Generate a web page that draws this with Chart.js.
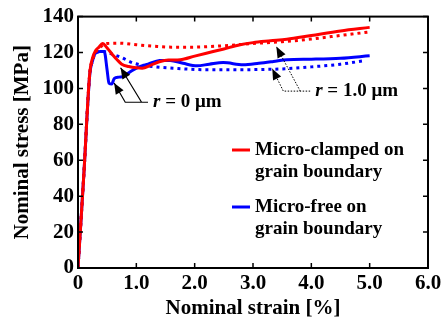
<!DOCTYPE html>
<html>
<head>
<meta charset="utf-8">
<script src="https://cdn.jsdelivr.net/npm/chart.js@4/dist/chart.umd.min.js"></script>
<style>
  html, body { margin: 0; padding: 0; background: #fff; }
  canvas { display: block; }
</style>
</head>
<body>
<canvas id="stressStrain" width="445" height="323"></canvas>
<script>
// r = 0 um, micro-clamped (red solid)
var strainClampedR0 = [0, 0.1, 0.2, 0.25, 0.3, 0.36, 0.42, 0.5, 0.6, 0.67, 0.75, 0.87, 1.0, 1.1, 1.25, 1.41, 1.55, 1.75, 2.0, 2.2, 2.5, 2.78, 3.0, 3.3, 3.58, 4.0, 4.5, 5.0];
var stressClampedR0 = [0, 52, 108, 117, 121, 123, 125, 122.5, 118.5, 116, 113.5, 112.2, 111.5, 111.3, 113, 115, 115.8, 116, 118, 119.6, 122, 124.3, 125.5, 126.5, 127.4, 129.5, 132, 134];

// r = 1.0 um, micro-clamped (red dotted)
var strainClampedR1 = [0, 0.1, 0.2, 0.25, 0.3, 0.4, 0.5, 0.7, 1.0, 1.3, 1.6, 2.0, 2.2, 2.6, 3.0, 3.5, 4.0, 4.5, 5.0];
var stressClampedR1 = [0, 52, 108, 116, 120, 123.5, 125, 125.2, 124.3, 123.5, 123, 123, 123.2, 124, 125, 126, 127.5, 129.5, 131.5];

// r = 0 um, micro-free (blue solid)
var strainFreeR0 = [0, 0.1, 0.2, 0.25, 0.3, 0.38, 0.45, 0.5, 0.53, 0.58, 0.62, 0.7, 0.79, 0.86, 0.93, 1.05, 1.2, 1.4, 1.58, 1.8, 2.04, 2.25, 2.49, 2.83, 3.1, 3.35, 3.58, 4.0, 4.5, 5.0];
var stressFreeR0 = [0, 52, 107, 115.5, 119.6, 120.5, 120.5, 110, 103, 102.5, 105.5, 106.3, 106.7, 108.5, 110, 112, 113.5, 115.5, 115.6, 114, 112.6, 113.5, 114.4, 113.2, 114, 115, 116, 116.3, 116.8, 118.2];

// r = 1.0 um, micro-free (blue dotted)
var strainFreeR1 = [0, 0.1, 0.2, 0.25, 0.3, 0.38, 0.45, 0.55, 0.73, 0.96, 1.2, 1.63, 2.2, 2.78, 3.2, 3.58, 4.0, 4.5, 4.9];
var stressFreeR1 = [0, 52, 107, 115.5, 119.6, 120.5, 120.5, 119.5, 117.4, 114, 112.5, 111.3, 110.4, 110.4, 110.6, 111, 112, 113.5, 115.4];

var legendLabels = [['Micro-clamped on', 'grain boundary'], ['Micro-free on', 'grain boundary']];
var xTitle = 'Nominal strain [%]';
var yTitle = 'Nominal stress [MPa]';

var FONT = '"Liberation Serif", "Times New Roman", serif';

function pts(xs, ys) {
    return xs.map(function (x, i) { return { x: x, y: ys[i] }; });
}

function arrow(ctx, x0, y0, x1, y1) {
    var a = Math.atan2(y1 - y0, x1 - x0);
    var len = 11, half = 4.5;
    ctx.beginPath();
    ctx.moveTo(x1, y1);
    ctx.lineTo(x1 - len * Math.cos(a) + half * Math.sin(a), y1 - len * Math.sin(a) - half * Math.cos(a));
    ctx.lineTo(x1 - len * Math.cos(a) - half * Math.sin(a), y1 - len * Math.sin(a) + half * Math.cos(a));
    ctx.closePath();
    ctx.fill();
}

function rLabel(ctx, x, y, rest) {
    ctx.textBaseline = 'middle';
    ctx.textAlign = 'left';
    ctx.font = 'italic bold 19px ' + FONT;
    ctx.fillText('r', x, y);
    var w = ctx.measureText('r').width;
    ctx.font = 'bold 19px ' + FONT;
    ctx.fillText(rest, x + w, y);
}

var decorations = {
    id: 'decorations',
    afterDraw: function (chart) {
        var ctx = chart.ctx;
        var a = chart.chartArea;
        var sx = chart.scales.x, sy = chart.scales.y;
        ctx.save();

        // frame
        ctx.strokeStyle = '#000';
        ctx.lineWidth = 2;
        ctx.strokeRect(a.left, a.top, a.right - a.left, a.bottom - a.top);

        // inward ticks on all sides
        ctx.lineWidth = 1.5;
        ctx.beginPath();
        sx.ticks.forEach(function (t) {
            var px = sx.getPixelForValue(t.value);
            ctx.moveTo(px, a.bottom); ctx.lineTo(px, a.bottom - 5);
            ctx.moveTo(px, a.top); ctx.lineTo(px, a.top + 5);
        });
        sy.ticks.forEach(function (t) {
            var py = sy.getPixelForValue(t.value);
            ctx.moveTo(a.left, py); ctx.lineTo(a.left + 5, py);
            ctx.moveTo(a.right, py); ctx.lineTo(a.right - 5, py);
        });
        ctx.stroke();

        // axis titles
        ctx.fillStyle = '#000';
        ctx.font = 'bold 21px ' + FONT;
        ctx.textAlign = 'center';
        ctx.textBaseline = 'middle';
        ctx.fillText(xTitle, (a.left + a.right) / 2, 309);
        ctx.save();
        ctx.translate(23, (a.top + a.bottom) / 2);
        ctx.rotate(-Math.PI / 2);
        ctx.fillText(yTitle, 0, 0);
        ctx.restore();

        // r = 0 um annotation (solid leaders)
        var bx0 = sx.getPixelForValue(0.81), bx1 = sx.getPixelForValue(1.09), bxe = sx.getPixelForValue(1.2);
        var by = sy.getPixelForValue(92.3);
        var t1x = sx.getPixelForValue(0.62), t1y = sy.getPixelForValue(103);
        var t2x = sx.getPixelForValue(0.73), t2y = sy.getPixelForValue(111.5);
        ctx.strokeStyle = '#000';
        ctx.fillStyle = '#000';
        ctx.lineWidth = 1.2;
        ctx.beginPath();
        ctx.moveTo(bxe, by); ctx.lineTo(bx0, by); ctx.lineTo(t1x, t1y);
        ctx.moveTo(bx1, by); ctx.lineTo(t2x, t2y);
        ctx.stroke();
        arrow(ctx, bx0, by, t1x, t1y);
        arrow(ctx, bx1, by, t2x, t2y);
        rLabel(ctx, bxe + 5, by, ' = 0 \u03bcm');

        // r = 1.0 um annotation (dotted leaders)
        var cx0 = sx.getPixelForValue(3.52), cx1 = sx.getPixelForValue(3.81), cxe = sx.getPixelForValue(3.98);
        var cy = sy.getPixelForValue(98.5);
        var u1x = sx.getPixelForValue(3.33), u1y = sy.getPixelForValue(111);
        var u2x = sx.getPixelForValue(3.4), u2y = sy.getPixelForValue(123.3);
        ctx.lineWidth = 1;
        ctx.setLineDash([1.5, 1.5]);
        ctx.beginPath();
        ctx.moveTo(cxe, cy); ctx.lineTo(cx0, cy); ctx.lineTo(u1x, u1y);
        ctx.moveTo(cx1, cy); ctx.lineTo(u2x, u2y);
        ctx.stroke();
        ctx.setLineDash([]);
        arrow(ctx, cx0, cy, u1x, u1y);
        arrow(ctx, cx1, cy, u2x, u2y);
        rLabel(ctx, cxe + 5, cy, ' = 1.0 \u03bcm');

        // legend
        var colors = ['#ff0000', '#0000ff'];
        var rowsY = [150, 207];
        ctx.lineWidth = 3;
        ctx.textAlign = 'left';
        ctx.textBaseline = 'middle';
        ctx.font = 'bold 19px ' + FONT;
        legendLabels.forEach(function (lines, i) {
            ctx.strokeStyle = colors[i];
            ctx.beginPath();
            ctx.moveTo(232, rowsY[i]); ctx.lineTo(250, rowsY[i]);
            ctx.stroke();
            ctx.fillStyle = '#000';
            ctx.fillText(lines[0], 255, rowsY[i]);
            ctx.fillText(lines[1], 255, rowsY[i] + 22);
        });
        ctx.restore();
    }
};

function lineSet(xs, ys, color, dotted) {
    return {
        data: pts(xs, ys),
        borderColor: color,
        backgroundColor: color,
        borderWidth: 3,
        borderDash: dotted ? [3, 4] : [],
        pointRadius: 0,
        fill: false,
        cubicInterpolationMode: 'monotone'
    };
}

var tickFont = { family: FONT, size: 21, weight: 'bold' };

new Chart(document.getElementById('stressStrain').getContext('2d'), {
    type: 'line',
    data: {
        datasets: [
            lineSet(strainClampedR1, stressClampedR1, '#ff0000', true),
            lineSet(strainClampedR0, stressClampedR0, '#ff0000', false),
            lineSet(strainFreeR1, stressFreeR1, '#0000ff', true),
            lineSet(strainFreeR0, stressFreeR0, '#0000ff', false)
        ]
    },
    options: {
        responsive: false,
        animation: false,
        devicePixelRatio: 1,
        layout: { padding: { top: 16, right: 17, left: 0, bottom: 0 } },
        plugins: { legend: { display: false }, tooltip: { enabled: false } },
        scales: {
            x: {
                type: 'linear', min: 0, max: 6,
                ticks: {
                    stepSize: 1, color: '#000', font: tickFont, padding: 3, maxRotation: 0,
                    callback: function (v) { return v === 0 ? '0' : v.toFixed(1); }
                },
                grid: { drawOnChartArea: false, drawTicks: false },
                border: { display: false },
                afterFit: function (s) { s.height = 55; }
            },
            y: {
                type: 'linear', min: 0, max: 140,
                ticks: { stepSize: 20, color: '#000', font: tickFont, padding: 4 },
                grid: { drawOnChartArea: false, drawTicks: false },
                border: { display: false },
                afterFit: function (s) { s.width = 78; }
            }
        }
    },
    plugins: [decorations]
});
</script>
</body>
</html>
